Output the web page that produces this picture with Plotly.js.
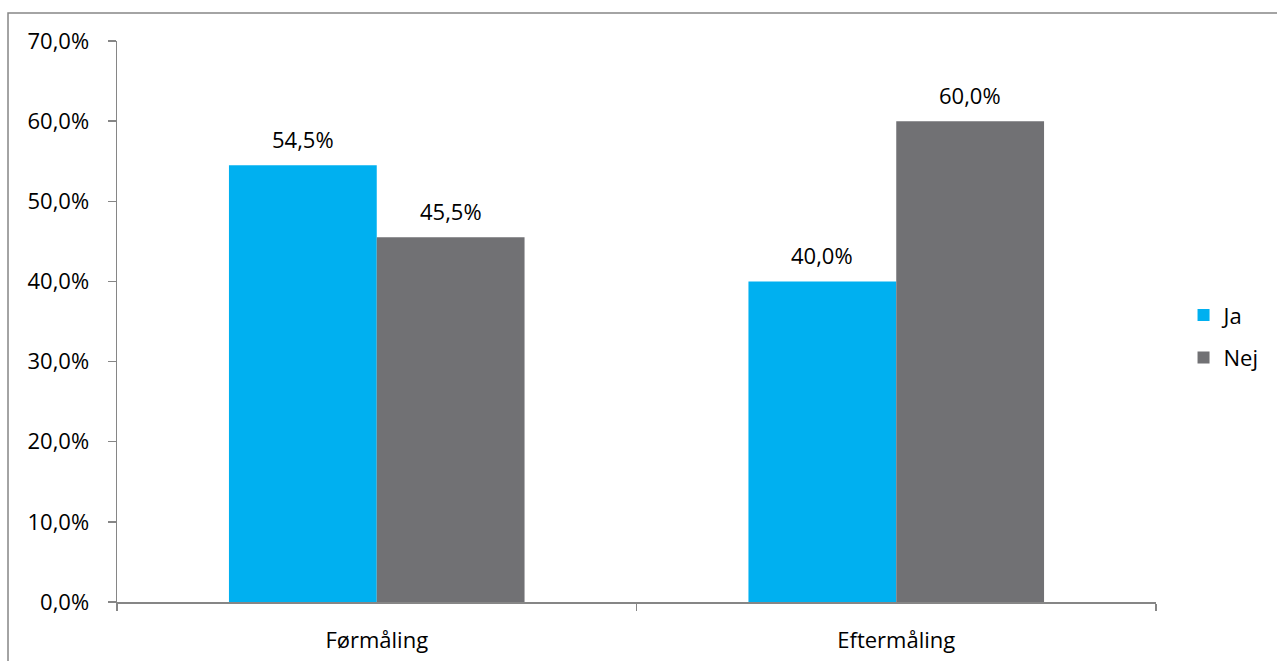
<!DOCTYPE html>
<html>
<head>
<meta charset="utf-8">
<script src="https://cdn.plot.ly/plotly-3.0.1.min.js"></script>
<style>
html,body{margin:0;padding:0;background:#fff;}
#chart{width:1277px;height:661px;}
</style>
</head>
<body>
<div id="chart"></div>
<script>
const categories = ["Førmåling", "Eftermåling"];
const seriesNames = ["Ja", "Nej"];
const jaValues = [0.545, 0.40];
const nejValues = [0.455, 0.60];
const yTickValues = [0, 0.1, 0.2, 0.3, 0.4, 0.5, 0.6, 0.7];

const font = {family: "'Open Sans', sans-serif", size: 22, color: "#000000"};
const colors = ["#00B0F0", "#717174"];
const seriesValues = [jaValues, nejValues];

const W = 1277, H = 661;
const margin = {l: 117, r: 121, t: 41, b: 59};
const bargap = 0.431;
const plotW = W - margin.l - margin.r;
const barPx = (plotW / categories.length) * (1 - bargap) / seriesValues.length;

const traces = seriesValues.map((vals, j) => ({
  type: "bar", name: seriesNames[j], x: categories, y: vals,
  marker: {color: colors[j]}, legendgroup: "g" + j, hoverinfo: "none"
}));

const fmt = v => (v * 100).toFixed(1).replace(".", ",") + "%";
const annotations = [];
seriesValues.forEach((vals, j) => {
  vals.forEach((v, i) => {
    annotations.push({
      x: categories[i], y: v, xref: "x", yref: "y",
      text: fmt(v), showarrow: false,
      xshift: (j - (seriesValues.length - 1) / 2) * barPx,
      yanchor: "middle", yshift: 26, font: font
    });
  });
});

const layout = {
  width: W, height: H,
  margin: margin,
  paper_bgcolor: "#ffffff", plot_bgcolor: "#ffffff",
  separators: ",.",
  font: font,
  barmode: "group",
  bargap: bargap,
  bargroupgap: 0,
  showlegend: true,
  legend: {x: 1.0265, y: 0.473, xanchor: "left", yanchor: "middle",
           traceorder: "grouped", tracegroupgap: 11, font: font,
           bgcolor: "rgba(0,0,0,0)"},
  xaxis: {type: "category", showline: true, linecolor: "#868686", linewidth: 1.5,
          ticks: "outside", tickson: "boundaries", ticklen: 7, tickcolor: "#868686",
          tickwidth: 1.5, showgrid: false, zeroline: false, ticklabelstandoff: 18,
          tickfont: font, fixedrange: true},
  yaxis: {range: [0, 0.7], tickvals: yTickValues, tickformat: ".1%",
          showline: true, linecolor: "#868686", linewidth: 1.5,
          ticks: "outside", ticklen: 8, tickcolor: "#868686", tickwidth: 1.5,
          showgrid: false, zeroline: false, ticklabelstandoff: 14,
          tickfont: font, fixedrange: true},
  annotations: annotations,
  shapes: [{type: "rect", xref: "paper", yref: "paper",
            x0: -0.1049, x1: 1.3, y0: -0.3, y1: 1.0499,
            line: {color: "#868686", width: 1.5}, fillcolor: "rgba(0,0,0,0)", layer: "below"}]
};

Plotly.newPlot("chart", traces, layout, {displayModeBar: false, staticPlot: true});
</script>
</body>
</html>
